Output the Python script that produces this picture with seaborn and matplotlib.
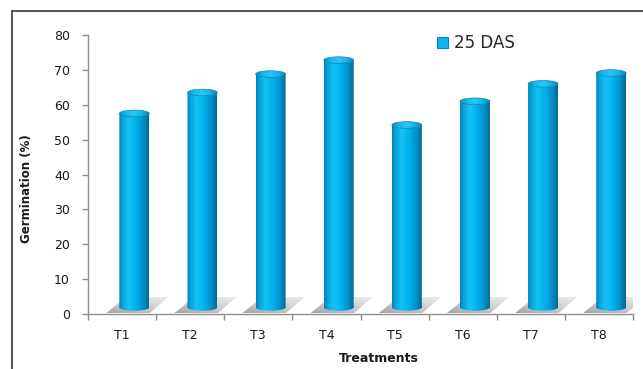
import numpy as np
import pandas as pd
import seaborn as sns
import matplotlib.pyplot as plt
from matplotlib.patches import Patch, Polygon, Ellipse
from matplotlib.path import Path
from matplotlib.transforms import Affine2D
from matplotlib.colors import to_rgb
from matplotlib.lines import Line2D

# Germination data
treatments = ["T1", "T2", "T3", "T4", "T5", "T6", "T7", "T8"]
germination_25das = [57.5, 63.5, 68.8, 72.8, 54.2, 61.0, 66.0, 69.1]
y_ticks = [0, 10, 20, 30, 40, 50, 60, 70, 80]
series_label = "25 DAS"

sns.set_theme(style="white")
plt.rcParams["font.family"] = ["DejaVu Sans"]

fig = plt.figure(figsize=(6.43, 3.69), dpi=100)
ax = fig.add_axes([88 / 643, 1 - 314 / 369, 545 / 643, 279 / 369])

df = pd.DataFrame({"Treatment": treatments, "Germination": germination_25das})
sns.barplot(data=df, x="Treatment", y="Germination", width=0.44,
            color="#00B0F0", ax=ax, zorder=3)

# cylinder styling
DX = 0.18      # perspective shift of the columns
LIFT = 1.9     # base of the columns sits slightly back from the floor edge
EH = 1.9       # height of the elliptical caps (data units)


def profile(stops, n=96):
    t = np.linspace(0, 1, n)
    pos = [s[0] for s in stops]
    cols = np.array([to_rgb(s[1]) for s in stops])
    arr = np.stack([np.interp(t, pos, cols[:, i]) for i in range(3)], axis=-1)
    return arr[np.newaxis, :, :]


body_grad = profile([(0.0, "#0C7FB0"), (0.10, "#06A2DA"), (0.32, "#16C2F7"),
                     (0.55, "#02B3EE"), (0.80, "#0094CC"), (1.0, "#006A96")])
cap_grad = profile([(0.0, "#0A8EC2"), (0.25, "#1BB8EE"), (0.5, "#2CC4F6"),
                    (0.75, "#18B3EA"), (1.0, "#0A86B8")])

# soft shadow: strongest near the base of the column, fading up and right
sh_h, sh_w = 40, 60
yy, xx = np.mgrid[0:sh_h, 0:sh_w]
fy = yy / (sh_h - 1)
fx = xx / (sh_w - 1)
shadow_rgba = np.zeros((sh_h, sh_w, 4))
shadow_rgba[..., :3] = to_rgb("#6a6a6a")
shadow_rgba[..., 3] = 0.62 * (0.35 + 0.65 * fy) * (1 - 0.45 * fx)


def ellipse_path(cx, cy, w, h):
    return Affine2D().scale(w / 2, h / 2).translate(cx, cy).transform_path(Path.unit_circle())


def rect_path(x0, y0, w, h):
    return Affine2D().scale(w, h).translate(x0, y0).transform_path(Path.unit_rectangle())


for p in ax.patches:
    x0 = p.get_x() + DX
    w = p.get_width()
    top = p.get_height()
    p.set_x(x0)
    p.set_facecolor("none")
    p.set_edgecolor("none")
    cx = x0 + w / 2
    L, R = x0, x0 + w

    # floor shadow
    sh = ax.imshow(shadow_rgba, extent=(L - 0.2, R + 0.3, 0.15, 4.9),
                   origin="upper", aspect="auto", interpolation="bilinear", zorder=2)
    sh_poly = Polygon([(L - 0.2, 0.15), (R + 0.0, 0.15), (R + 0.28, 4.9), (L + 0.1, 4.9)],
                      closed=True, transform=ax.transData)
    sh.set_clip_path(sh_poly)

    # body with rounded bottom
    body = ax.imshow(body_grad, extent=(x0, x0 + w, LIFT - EH / 2, top),
                     aspect="auto", interpolation="bilinear", zorder=3)
    clip = Path.make_compound_path(rect_path(x0, LIFT, w, top - LIFT),
                                   ellipse_path(cx, LIFT, w, EH))
    body.set_clip_path(clip, transform=ax.transData)

    # top cap
    cap = ax.imshow(cap_grad, extent=(x0, x0 + w, top - EH / 2, top + EH / 2),
                    aspect="auto", interpolation="bilinear", zorder=4)
    cap.set_clip_path(ellipse_path(cx, top, w, EH), transform=ax.transData)
    ax.add_patch(Ellipse((cx, top), w, EH, fill=False, edgecolor="#0A8ABD",
                         linewidth=0.5, zorder=5))

ax.set_xlim(-0.5, 7.5)
ax.set_ylim(0, 80)

# axes, ticks and labels
for side in ["top", "right"]:
    ax.spines[side].set_visible(False)
for side in ["left", "bottom"]:
    ax.spines[side].set_color("#8E8E8E")
    ax.spines[side].set_linewidth(1.0)

ax.set_yticks(y_ticks)
ax.tick_params(axis="y", left=True, direction="out", length=4, width=1,
               color="#8E8E8E", pad=9, labelsize=9, labelcolor="#1a1a1a")
ax.set_xticks(range(len(treatments)))
ax.set_xticklabels(treatments)
ax.tick_params(axis="x", which="major", bottom=False, length=0, pad=11,
               labelsize=9, labelcolor="#1a1a1a")
ax.set_xticks(np.arange(-0.5, len(treatments), 1), minor=True)
ax.tick_params(axis="x", which="minor", bottom=True, direction="out",
               length=4, width=1, color="#8E8E8E")

ax.set_xlabel("Treatments", fontsize=9, fontweight="bold", color="#1a1a1a")
ax.set_ylabel("Germination (%)", fontsize=8.5, fontweight="bold", color="#1a1a1a")
ax.xaxis.set_label_coords((379 - 88) / 545, (314 - 358) / 279)
ax.xaxis.label.set_va("center")
ax.yaxis.set_label_coords((27 - 88) / 545, (314 - 189) / 279)
ax.yaxis.label.set_va("center")

handle = Patch(facecolor="#12B2EC", edgecolor="#0A86BA", linewidth=0.8)
ax.legend(handles=[handle], labels=[series_label], loc="center left",
          bbox_to_anchor=(437 / 643, 1 - 43 / 369), bbox_transform=fig.transFigure,
          frameon=False, fontsize=12, handlelength=0.65, handleheight=0.65,
          handletextpad=0.35, borderpad=0, borderaxespad=0)

# outer frame (left and top edges)
fig.add_artist(Line2D([12 / 643, 12 / 643], [0, 1 - 10.5 / 369],
                      transform=fig.transFigure, color="#5a5a5a", linewidth=1.5))
fig.add_artist(Line2D([12 / 643, 1], [1 - 10.5 / 369, 1 - 10.5 / 369],
                      transform=fig.transFigure, color="#5a5a5a", linewidth=1.5))

fig.savefig("out.png", dpi=100)
